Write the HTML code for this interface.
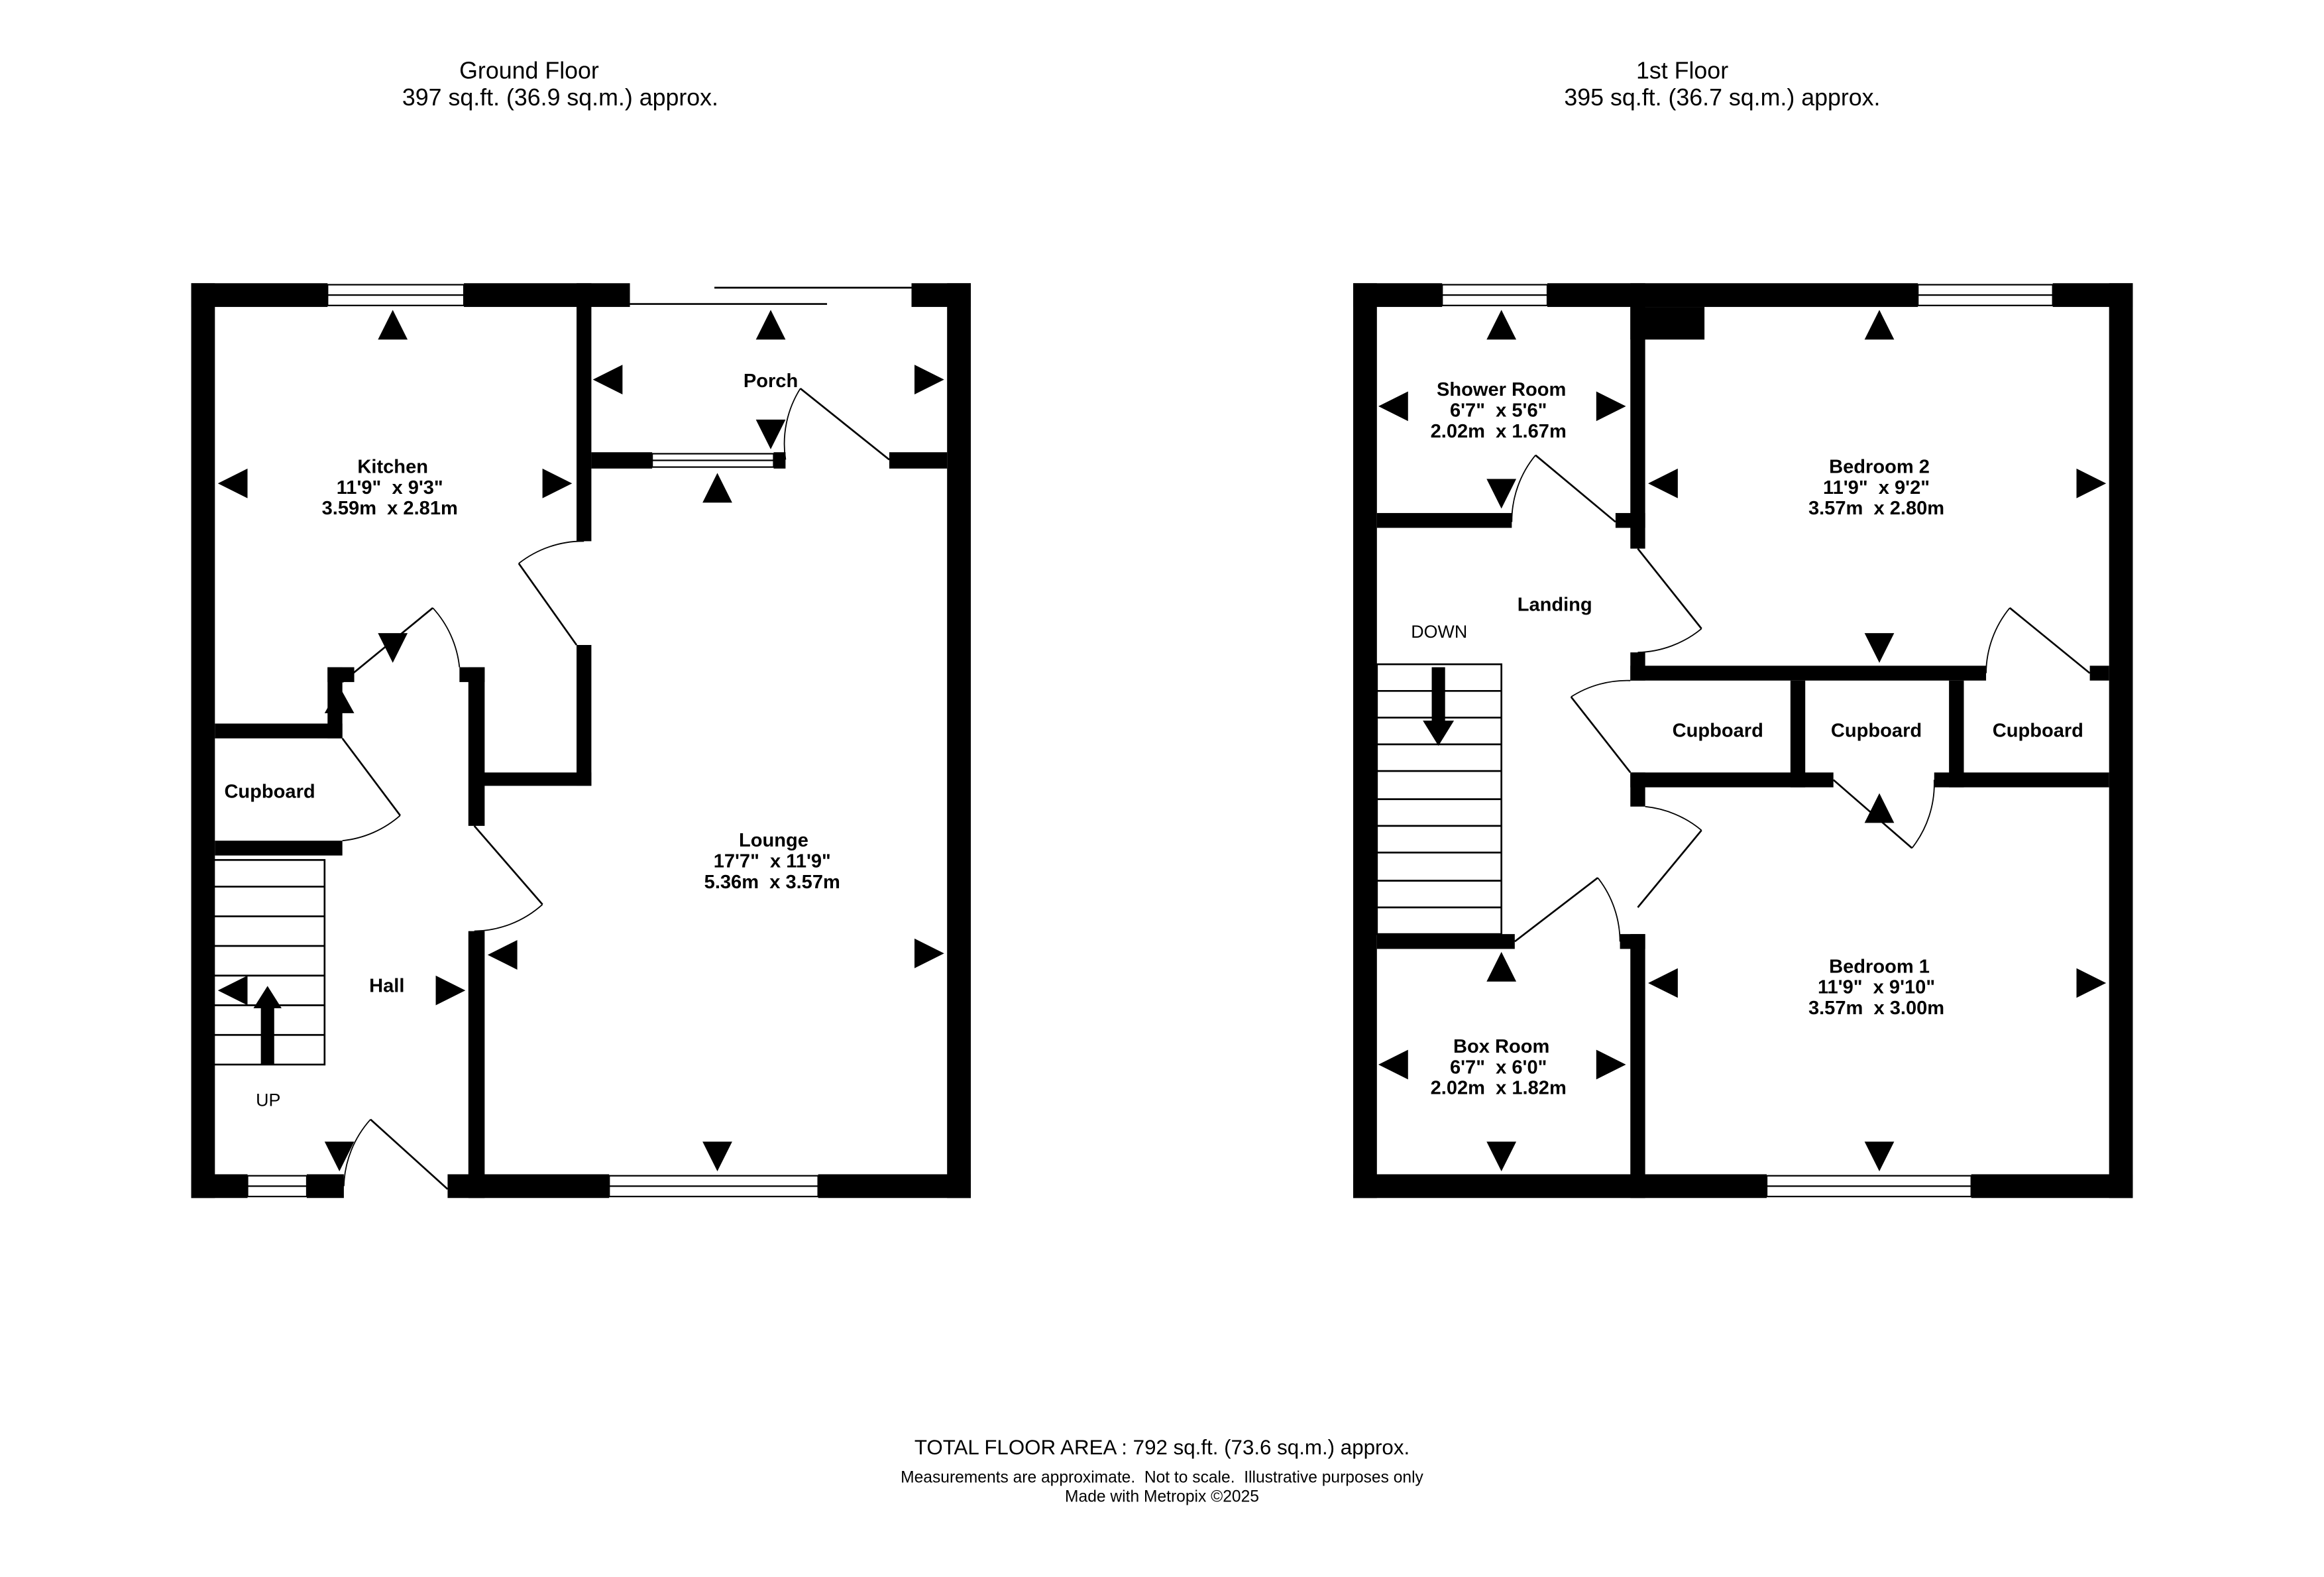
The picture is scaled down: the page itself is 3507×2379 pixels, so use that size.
<!DOCTYPE html>
<html><head><meta charset="utf-8"><style>
html,body{margin:0;padding:0;background:#fff;}
svg{display:block;}
text{font-family:"Liberation Sans",sans-serif;fill:#000;white-space:pre;}
.b{font-weight:bold;font-size:13px;}
.t{font-size:16px;}
</style></head><body>
<svg width="3507" height="2379" viewBox="0 0 1568 1063.6" xmlns="http://www.w3.org/2000/svg" xml:space="preserve">
<rect width="1568" height="1064" fill="#fff"/>
<g fill="#000">
<rect x="129" y="191" width="92" height="16"/>
<rect x="313" y="191" width="112" height="16"/>
<rect x="615" y="191" width="40" height="16"/>
<rect x="129" y="191" width="16" height="617"/>
<rect x="639" y="191" width="16" height="617"/>
<rect x="129" y="792" width="38" height="16"/>
<rect x="207" y="792" width="25" height="16"/>
<rect x="302" y="792" width="109" height="16"/>
<rect x="552" y="792" width="103" height="16"/>
<rect x="389" y="191" width="10" height="174"/>
<rect x="389" y="435" width="10" height="95"/>
<rect x="320" y="521" width="79" height="9"/>
<rect x="399" y="305" width="41" height="11"/>
<rect x="522" y="305" width="8" height="11"/>
<rect x="600" y="305" width="39" height="11"/>
<rect x="316" y="450" width="11" height="107"/>
<rect x="310" y="450" width="17" height="10"/>
<rect x="316" y="628" width="11" height="180"/>
<rect x="145" y="488" width="86" height="10"/>
<rect x="221" y="450" width="10" height="48"/>
<rect x="221" y="450" width="18" height="10"/>
<rect x="145" y="567" width="86" height="10"/>
<rect x="913" y="191" width="60" height="16"/>
<rect x="1044" y="191" width="250" height="16"/>
<rect x="1385" y="191" width="54" height="16"/>
<rect x="913" y="191" width="16" height="617"/>
<rect x="1423" y="191" width="16" height="617"/>
<rect x="913" y="792" width="279" height="16"/>
<rect x="1330" y="792" width="109" height="16"/>
<rect x="1100" y="191" width="10" height="179"/>
<rect x="1100" y="207" width="50" height="22"/>
<rect x="1090" y="346" width="20" height="10"/>
<rect x="929" y="346" width="91" height="10"/>
<rect x="1100" y="449" width="240" height="10"/>
<rect x="1410" y="449" width="13" height="10"/>
<rect x="1100" y="440" width="10" height="19"/>
<rect x="1208" y="459" width="10" height="72"/>
<rect x="1315" y="459" width="10" height="72"/>
<rect x="1100" y="521" width="137" height="10"/>
<rect x="1305" y="521" width="118" height="10"/>
<rect x="1100" y="521" width="10" height="23"/>
<rect x="1100" y="630" width="10" height="178"/>
<rect x="1093" y="630" width="17" height="10"/>
<rect x="929" y="630" width="93" height="10"/>
</g>
<g fill="#fff" stroke="#000" stroke-width="1">
<rect x="221" y="192" width="92" height="14"/><line x1="221" y1="199" x2="313" y2="199"/>
<rect x="167" y="793" width="40" height="14"/><line x1="167" y1="800" x2="207" y2="800"/>
<rect x="411" y="793" width="141" height="14"/><line x1="411" y1="800" x2="552" y2="800"/>
<rect x="440" y="306" width="82" height="9"/><line x1="440" y1="310.5" x2="522" y2="310.5"/>
<rect x="973" y="192" width="71" height="14"/><line x1="973" y1="199" x2="1044" y2="199"/>
<rect x="1294" y="192" width="91" height="14"/><line x1="1294" y1="199" x2="1385" y2="199"/>
<rect x="1192" y="793" width="138" height="14"/><line x1="1192" y1="800" x2="1330" y2="800"/>
</g>
<g stroke="#000" stroke-width="1.2" fill="none">
<line x1="425" y1="205" x2="558" y2="205"/>
<line x1="482" y1="194" x2="615" y2="194"/>
<path d="M600 310 L540 262"/><path d="M540 262 A70 70 0 0 0 530 310" stroke-width="0.8"/>
<path d="M389 435 L350 380"/><path d="M350 380 A70 70 0 0 1 394 365" stroke-width="0.8"/>
<path d="M231 460 L292 410"/><path d="M292 410 A70 70 0 0 1 310 450" stroke-width="0.8"/>
<path d="M231 498 L270 550"/><path d="M270 550 A70 70 0 0 1 231 567" stroke-width="0.8"/>
<path d="M320 557 L366 610"/><path d="M366 610 A70 70 0 0 1 320 628" stroke-width="0.8"/>
<path d="M302 802 L250 755"/><path d="M250 755 A70 70 0 0 0 232 800" stroke-width="0.8"/>
<path d="M1090 352 L1036 307"/><path d="M1036 307 A70 70 0 0 0 1020 352" stroke-width="0.8"/>
<path d="M1105 370 L1148 424"/><path d="M1148 424 A70 70 0 0 1 1105 440" stroke-width="0.8"/>
<path d="M1060 470 L1100 521"/><path d="M1060 470 A70 70 0 0 1 1100 459" stroke-width="0.8"/>
<path d="M1237 526 L1290 572"/><path d="M1290 572 A70 70 0 0 0 1305 526" stroke-width="0.8"/>
<path d="M1410 454 L1356 410"/><path d="M1356 410 A70 70 0 0 0 1340 454" stroke-width="0.8"/>
<path d="M1105 612 L1148 560"/><path d="M1148 560 A70 70 0 0 0 1110 544" stroke-width="0.8"/>
<path d="M1022 635 L1078 592"/><path d="M1078 592 A70 70 0 0 1 1093 635" stroke-width="0.8"/>
<rect x="143" y="580" width="76" height="138"/>
<line x1="143" y1="598" x2="219" y2="598"/><line x1="143" y1="618" x2="219" y2="618"/>
<line x1="143" y1="638" x2="219" y2="638"/><line x1="143" y1="658" x2="219" y2="658"/>
<line x1="143" y1="678" x2="219" y2="678"/><line x1="143" y1="698" x2="219" y2="698"/>
<rect x="929" y="448" width="84" height="182"/>
<line x1="929" y1="466" x2="1013" y2="466"/><line x1="929" y1="484" x2="1013" y2="484"/>
<line x1="929" y1="502" x2="1013" y2="502"/><line x1="929" y1="520" x2="1013" y2="520"/>
<line x1="929" y1="539" x2="1013" y2="539"/><line x1="929" y1="557" x2="1013" y2="557"/>
<line x1="929" y1="575" x2="1013" y2="575"/><line x1="929" y1="594" x2="1013" y2="594"/>
<line x1="929" y1="612" x2="1013" y2="612"/>
</g>
<g fill="#000">
<rect x="176" y="680" width="9" height="38"/><polygon points="171,680 190,680 180.5,665"/>
<rect x="966" y="450" width="9" height="38"/><polygon points="960,486 981,486 970.5,503"/>
</g>
<g fill="#000">
<polygon points="255,229 275,229 265,209"/>
<polygon points="167,316 167,336 147,326"/>
<polygon points="366,316 366,336 386,326"/>
<polygon points="255,427 275,427 265,447"/>
<polygon points="219,481 239,481 229,463"/>
<polygon points="420,246 420,266 400,256"/>
<polygon points="617,246 617,266 637,256"/>
<polygon points="510,229 530,229 520,209"/>
<polygon points="510,283 530,283 520,303"/>
<polygon points="474,339 494,339 484,319"/>
<polygon points="349,634 349,654 329,644"/>
<polygon points="617,633 617,653 637,643"/>
<polygon points="474,770 494,770 484,790"/>
<polygon points="294,658 294,678 314,668"/>
<polygon points="167,658 167,678 147,668"/>
<polygon points="219,770 239,770 229,790"/>
<polygon points="1003,229 1023,229 1013,209"/>
<polygon points="950,264 950,284 930,274"/>
<polygon points="1077,264 1077,284 1097,274"/>
<polygon points="1003,323 1023,323 1013,343"/>
<polygon points="1258,229 1278,229 1268,209"/>
<polygon points="1132,316 1132,336 1112,326"/>
<polygon points="1401,316 1401,336 1421,326"/>
<polygon points="1258,427 1278,427 1268,447"/>
<polygon points="1258,555 1278,555 1268,535"/>
<polygon points="1132,653 1132,673 1112,663"/>
<polygon points="1401,653 1401,673 1421,663"/>
<polygon points="1258,770 1278,770 1268,790"/>
<polygon points="1003,662 1023,662 1013,642"/>
<polygon points="950,708 950,728 930,718"/>
<polygon points="1077,708 1077,728 1097,718"/>
<polygon points="1003,770 1023,770 1013,790"/>
</g>
<g text-anchor="middle">
<text class="t" x="357" y="53">Ground Floor</text>
<text class="t" x="378" y="71">397 sq.ft. (36.9 sq.m.) approx.</text>
<text class="t" x="1135" y="53">1st Floor</text>
<text class="t" x="1162" y="71">395 sq.ft. (36.7 sq.m.) approx.</text>
<text class="b" x="265" y="319">Kitchen</text>
<text class="b" x="263" y="333">11'9"  x 9'3"</text>
<text class="b" x="263" y="347">3.59m  x 2.81m</text>
<text class="b" x="520" y="261">Porch</text>
<text class="b" x="182" y="538">Cupboard</text>
<text class="b" x="522" y="571">Lounge</text>
<text class="b" x="521" y="585">17'7"  x 11'9"</text>
<text class="b" x="521" y="599">5.36m  x 3.57m</text>
<text class="b" x="261" y="669">Hall</text>
<text x="181" y="746" font-size="12">UP</text>
<text class="b" x="1013" y="267">Shower Room</text>
<text class="b" x="1011" y="281">6'7"  x 5'6"</text>
<text class="b" x="1011" y="295">2.02m  x 1.67m</text>
<text class="b" x="1268" y="319">Bedroom 2</text>
<text class="b" x="1266" y="333">11'9"  x 9'2"</text>
<text class="b" x="1266" y="347">3.57m  x 2.80m</text>
<text class="b" x="1049" y="412">Landing</text>
<text x="971" y="430" font-size="12">DOWN</text>
<text class="b" x="1159" y="497">Cupboard</text>
<text class="b" x="1266" y="497">Cupboard</text>
<text class="b" x="1375" y="497">Cupboard</text>
<text class="b" x="1268" y="656">Bedroom 1</text>
<text class="b" x="1266" y="670">11'9"  x 9'10"</text>
<text class="b" x="1266" y="684">3.57m  x 3.00m</text>
<text class="b" x="1013" y="710">Box Room</text>
<text class="b" x="1011" y="724">6'7"  x 6'0"</text>
<text class="b" x="1011" y="738">2.02m  x 1.82m</text>
<text x="784" y="981" font-size="14">TOTAL FLOOR AREA : 792 sq.ft. (73.6 sq.m.) approx.</text>
<text x="784" y="1000" font-size="11">Measurements are approximate.  Not to scale.  Illustrative purposes only</text>
<text x="784" y="1013" font-size="11">Made with Metropix ©2025</text>
</g>
</svg>
</body></html>
